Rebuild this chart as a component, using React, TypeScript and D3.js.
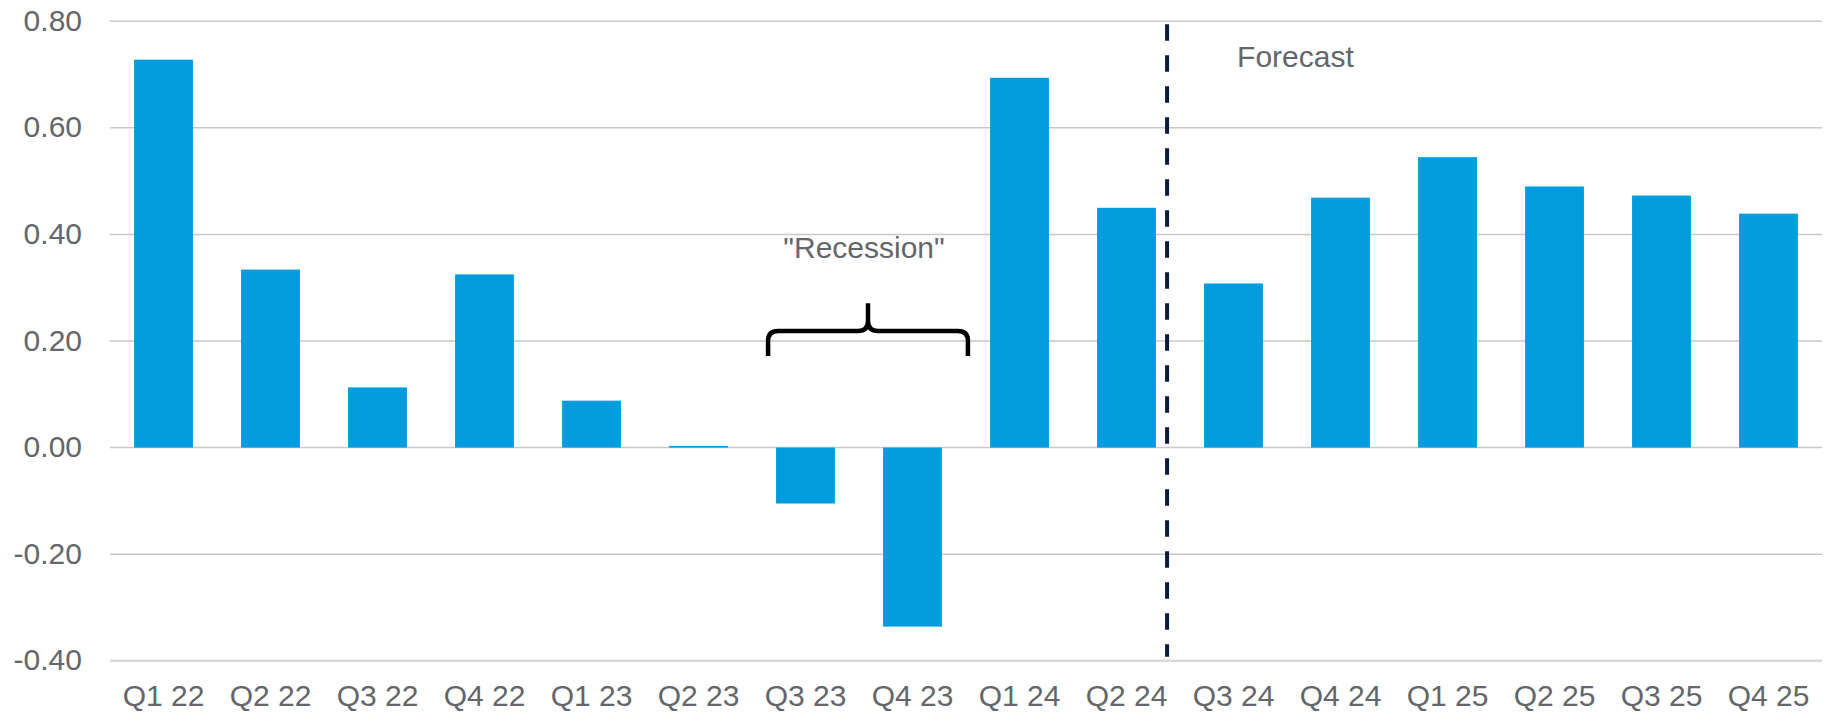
import React, { useRef, useEffect } from 'react';
import * as d3 from 'd3';

const quarters = [
  'Q1 22', 'Q2 22', 'Q3 22', 'Q4 22',
  'Q1 23', 'Q2 23', 'Q3 23', 'Q4 23',
  'Q1 24', 'Q2 24', 'Q3 24', 'Q4 24',
  'Q1 25', 'Q2 25', 'Q3 25', 'Q4 25',
];
const growth = [
  0.728, 0.334, 0.113, 0.325,
  0.088, 0.003, -0.105, -0.336,
  0.694, 0.45, 0.308, 0.469,
  0.545, 0.49, 0.473, 0.439,
];
const yTicks = [-0.4, -0.2, 0, 0.2, 0.4, 0.6, 0.8];
const forecastStart = 'Q3 24';
const recessionSpan = ['Q3 23', 'Q4 23'];

const W = 1828;
const H = 716;
const FONT = '"Liberation Sans", Arial, sans-serif';
const TEXT = '#63666a';
const BAR = '#009cde';

function GdpChart() {
  const svgRef = useRef<SVGSVGElement>(null);

  useEffect(() => {
    const svg = d3.select(svgRef.current);
    svg.selectAll('*').remove();

    const margin = { top: 21.3, right: 6, bottom: 55.3, left: 110 };
    const innerW = W - margin.left - margin.right;

    const x = d3.scaleBand<string>()
      .domain(quarters)
      .range([margin.left, margin.left + innerW])
      .paddingInner(0.45)
      .paddingOuter(0.225);

    const y = d3.scaleLinear()
      .domain([-0.4, 0.8])
      .range([H - margin.bottom, margin.top]);

    // plain hyphen for negatives, like the source
    const fmt = (v: number) => d3.format('.2f')(v).replace('\u2212', '-');

    // gridlines
    svg.append('g')
      .selectAll('line')
      .data(yTicks)
      .enter().append('line')
      .attr('x1', margin.left)
      .attr('x2', margin.left + innerW)
      .attr('y1', d => y(d))
      .attr('y2', d => y(d))
      .attr('stroke', d => (d === -0.4 ? '#d9d9d9' : '#c8c8c8'))
      .attr('stroke-width', d => (d === -0.4 ? 2.5 : 1.5));

    // y labels
    svg.append('g')
      .selectAll('text')
      .data(yTicks)
      .enter().append('text')
      .attr('x', margin.left - 28)
      .attr('y', d => y(d))
      .attr('dy', '0.32em')
      .attr('text-anchor', 'end')
      .attr('font-family', FONT)
      .attr('font-size', 30)
      .attr('fill', TEXT)
      .text(d => fmt(d));

    // bars
    svg.append('g')
      .selectAll('rect')
      .data(quarters.map((q, i) => ({ q, v: growth[i] })))
      .enter().append('rect')
      .attr('x', d => x(d.q)!)
      .attr('width', x.bandwidth())
      .attr('y', d => y(Math.max(0, d.v)))
      .attr('height', d => Math.abs(y(d.v) - y(0)))
      .attr('fill', BAR);

    // x labels
    svg.append('g')
      .selectAll('text')
      .data(quarters)
      .enter().append('text')
      .attr('x', d => x(d)! + x.bandwidth() / 2)
      .attr('y', y(-0.4) + 45)
      .attr('text-anchor', 'middle')
      .attr('font-family', FONT)
      .attr('font-size', 30)
      .attr('fill', TEXT)
      .text(d => d);

    // forecast divider
    const divX = x(forecastStart)! - 37;
    svg.append('line')
      .attr('x1', divX)
      .attr('x2', divX)
      .attr('y1', y(0.8) + 3)
      .attr('y2', y(-0.4) - 4)
      .attr('stroke', '#0c1a3d')
      .attr('stroke-width', 4)
      .attr('stroke-dasharray', '16.5 14.5');

    svg.append('text')
      .attr('x', x(forecastStart)! + 33)
      .attr('y', y(0.715))
      .attr('font-family', FONT)
      .attr('font-size', 30)
      .attr('fill', TEXT)
      .text('Forecast');

    // recession brace
    const bl = x(recessionSpan[0])! - 8;
    const br = x(recessionSpan[1])! + x.bandwidth() + 26;
    const bm = (bl + br) / 2;
    const yLeg = y(0.172);
    const yBar = y(0.219);
    const yTip = y(0.271);
    const r = 10;
    const path = d3.path();
    path.moveTo(bl, yLeg);
    path.lineTo(bl, yBar + r);
    path.quadraticCurveTo(bl, yBar, bl + r, yBar);
    path.lineTo(bm - r, yBar);
    path.quadraticCurveTo(bm, yBar, bm, yBar - r);
    path.lineTo(bm, yTip);
    path.moveTo(bm, yBar - r);
    path.quadraticCurveTo(bm, yBar, bm + r, yBar);
    path.lineTo(br - r, yBar);
    path.quadraticCurveTo(br, yBar, br, yBar + r);
    path.lineTo(br, yLeg);
    svg.append('path')
      .attr('d', path.toString())
      .attr('fill', 'none')
      .attr('stroke', '#000')
      .attr('stroke-width', 4.5);

    svg.append('text')
      .attr('x', bm - 4)
      .attr('y', y(0.355))
      .attr('text-anchor', 'middle')
      .attr('font-family', FONT)
      .attr('font-size', 30)
      .attr('fill', TEXT)
      .text('"Recession"');
  }, []);

  return <svg ref={svgRef} width={W} height={H} style={{ display: 'block' }} />;
}

export default function App() {
  return (
    <div style={{ position: 'fixed', left: 0, top: 0, width: W, height: H, background: '#fff' }}>
      <GdpChart />
    </div>
  );
}
